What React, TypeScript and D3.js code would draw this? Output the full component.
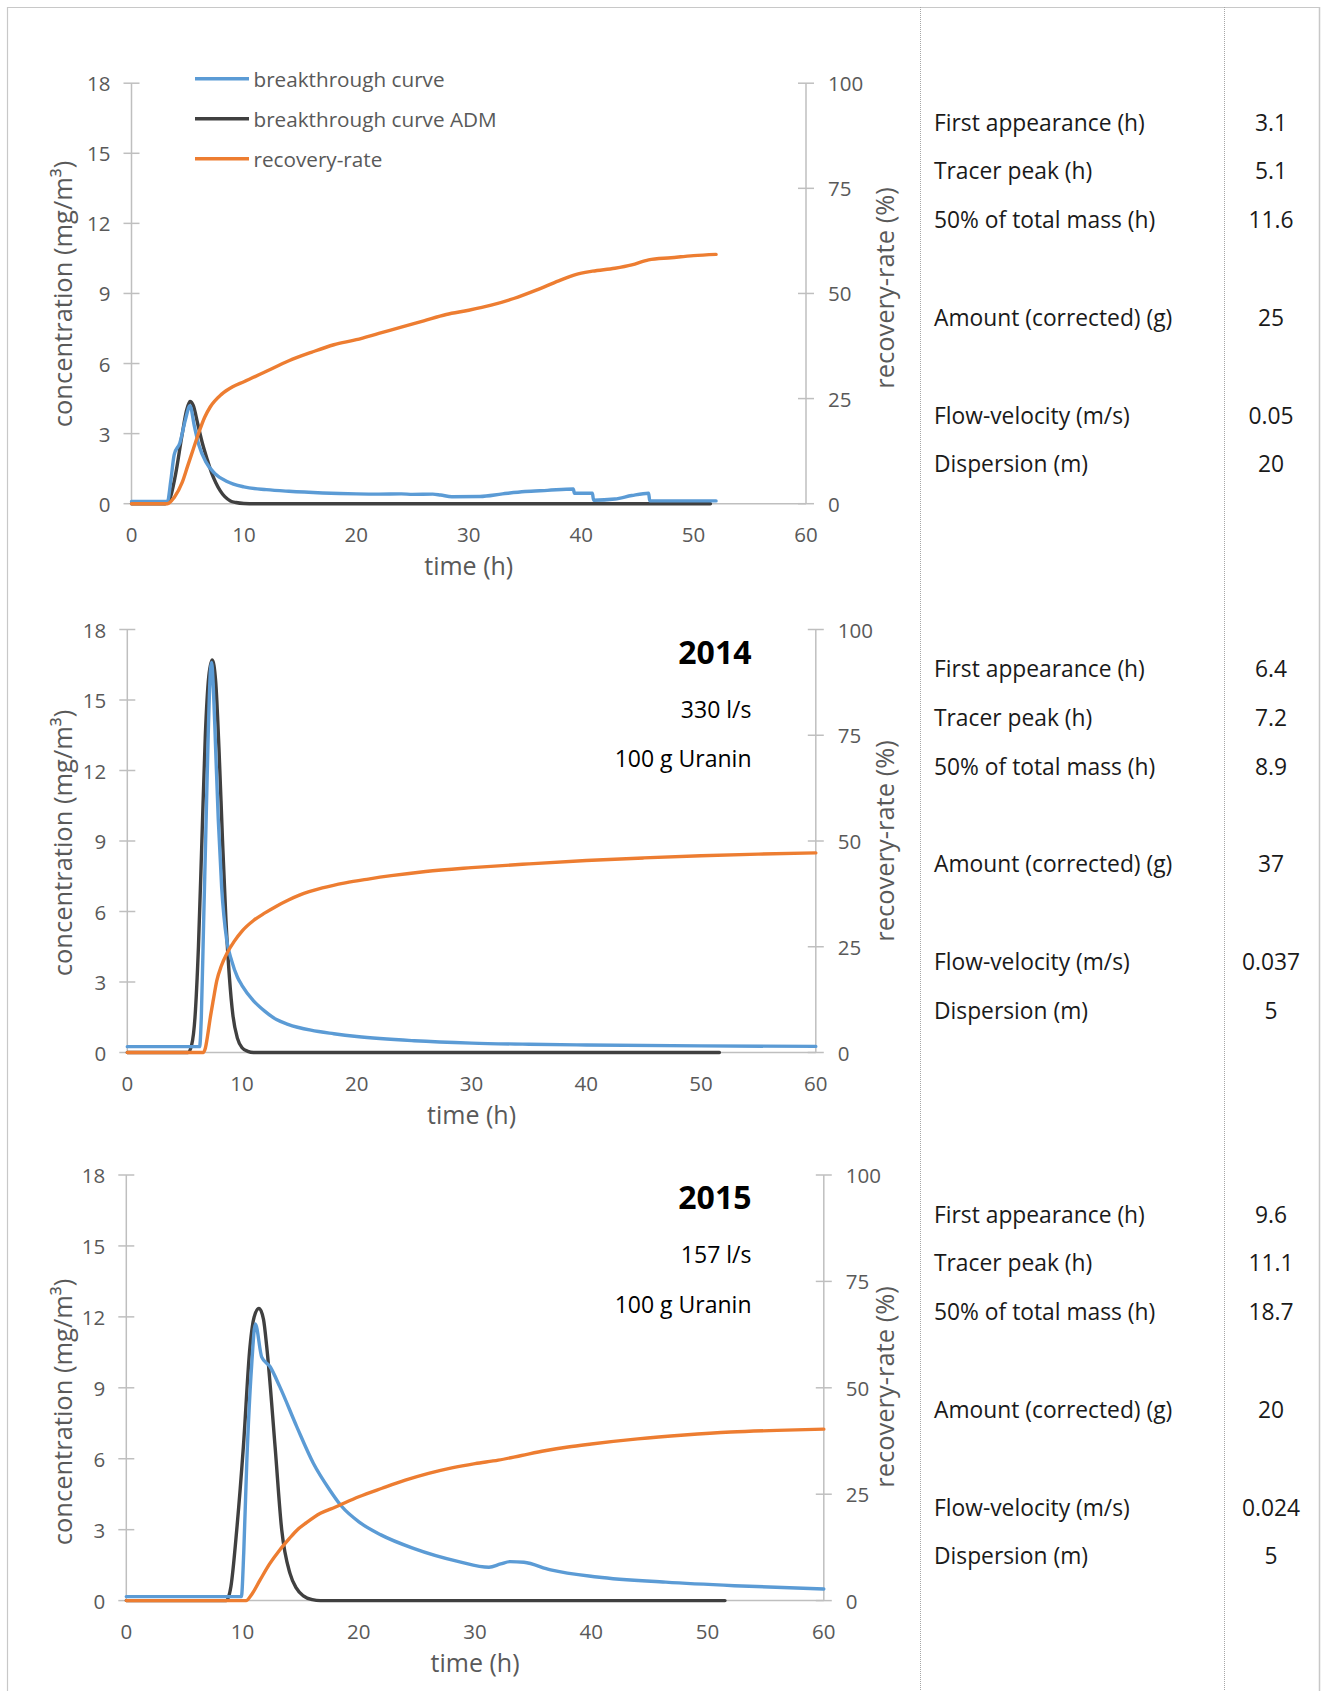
import React from "react";
import * as d3 from "d3";

type Pt = [number, number];

// axis ticks
const timeTicks = [0, 10, 20, 30, 40, 50, 60];
const concTicks = [0, 3, 6, 9, 12, 15, 18];
const rateTicks = [0, 25, 50, 75, 100];

const legendNames = ["breakthrough curve", "breakthrough curve ADM", "recovery-rate"];

// first test (legend chart) - [time h, value]
const btc1: Pt[] = [
  [0, 0.1], [3.2, 0.1], [3.5, 1.0], [3.8, 2.1], [4.3, 2.6], [4.8, 3.6], [5.2, 4.2], [5.6, 3.3],
  [6.0, 2.5], [6.6, 1.8], [7.4, 1.3], [8.5, 0.95], [10, 0.72], [12, 0.6], [14, 0.53], [17, 0.46],
  [20, 0.42], [22, 0.41], [24, 0.42], [25, 0.4], [26.8, 0.41], [27.5, 0.37], [28.5, 0.3], [31, 0.31],
  [33, 0.42], [35, 0.52], [37, 0.57], [39.3, 0.63], [39.4, 0.45], [41, 0.45], [41.1, 0.15], [43, 0.2],
  [44.5, 0.35], [46, 0.45], [46.1, 0.12], [52, 0.12],
];
const adm1: Pt[] = [
  [0, 0], [3.0, 0], [3.4, 0.2], [3.9, 1.2], [4.5, 2.95], [4.9, 4.0], [5.2, 4.38], [5.5, 4.2],
  [5.9, 3.4], [6.3, 2.6], [6.7, 1.95], [7.1, 1.35], [7.5, 0.9], [7.9, 0.55], [8.3, 0.3], [8.8, 0.12],
  [9.3, 0.05], [10, 0.01], [11, 0], [51.5, 0],
];
const rec1: Pt[] = [
  [0, 0], [3.2, 0], [3.8, 1.5], [4.5, 5], [5, 9], [5.5, 13], [6, 17], [6.5, 20.5], [7, 23], [8, 26],
  [9, 27.8], [10, 29], [12, 31.5], [14, 34], [16, 36], [18, 37.8], [20, 39], [22, 40.5], [24, 42],
  [26, 43.5], [28, 45], [30, 46], [32, 47.2], [34, 48.8], [36, 50.8], [38, 53], [39.5, 54.5],
  [41, 55.3], [43, 56], [44.5, 56.8], [46, 58], [48, 58.5], [50, 59], [52, 59.3],
];

// 2014
const btc2: Pt[] = [
  [0, 0.25], [6.3, 0.25], [6.45, 1.5], [6.65, 5.5], [6.85, 9.5], [7.05, 13.5], [7.25, 16.3],
  [7.35, 16.6], [7.5, 15.5], [7.7, 12.9], [7.93, 9.9], [8.22, 7.05], [8.66, 4.8], [9.1, 3.9],
  [9.6, 3.2], [10, 2.85], [11, 2.2], [12, 1.75], [13, 1.4], [14, 1.2], [16, 0.95], [18, 0.8],
  [20, 0.68], [25, 0.5], [30, 0.4], [35, 0.35], [40, 0.32], [50, 0.28], [60, 0.26],
];
const adm2: Pt[] = [
  [0, 0], [5.3, 0], [5.6, 0.3], [5.9, 1.5], [6.2, 4.5], [6.5, 9], [6.8, 13.5], [7.1, 16],
  [7.4, 16.7], [7.7, 15.8], [8.0, 12.8], [8.3, 9], [8.6, 5.6], [8.9, 3.2], [9.2, 1.6], [9.6, 0.6],
  [10, 0.2], [10.5, 0.05], [11, 0], [51.6, 0],
];
const rec2: Pt[] = [
  [0, 0], [6.6, 0], [6.8, 1], [7.0, 4], [7.2, 7.7], [7.5, 12.5], [7.8, 17], [8.2, 20.5], [8.7, 23.5],
  [9.3, 26.2], [10, 28.7], [11, 31.2], [12, 33], [13, 34.6], [14, 36], [15, 37.2], [17, 38.9],
  [19, 40.1], [21, 41], [23, 41.8], [26, 42.8], [30, 43.7], [35, 44.6], [40, 45.4], [45, 46],
  [50, 46.5], [55, 46.9], [60, 47.2],
];

// 2015
const btc3: Pt[] = [
  [0, 0.17], [9.9, 0.17], [10.1, 2], [10.36, 5.8], [10.79, 10.0], [11.1, 11.7], [11.65, 10.3],
  [12.36, 9.9], [13.2, 9.05], [14.66, 7.36], [16.1, 5.8], [17.5, 4.68], [18.5, 4.0], [20.1, 3.3],
  [21.9, 2.78], [24.7, 2.21], [28.6, 1.65], [31.2, 1.41], [32.2, 1.55], [33, 1.65], [34.2, 1.62],
  [36.5, 1.3], [40.5, 1.0], [46.4, 0.78], [52.3, 0.63], [60, 0.49],
];
const adm3: Pt[] = [
  [0, 0], [8.6, 0], [9.0, 0.6], [9.5, 2.99], [10.07, 6.5], [10.64, 10.74], [11.0, 12.0],
  [11.42, 12.36], [11.8, 11.9], [12.08, 10.74], [12.8, 6.5], [13.37, 2.99], [14.08, 1.15],
  [14.6, 0.55], [15.23, 0.2], [16.0, 0.04], [16.7, 0], [51.5, 0],
];
const rec3: Pt[] = [
  [0, 0], [10.3, 0], [10.8, 1.5], [11.5, 4.8], [12.3, 8.5], [13.2, 11.9], [14, 14.5], [14.7, 16.6],
  [15.5, 18.3], [16.7, 20.5], [18, 22], [20, 24.4], [22, 26.4], [24, 28.3], [26, 29.9], [28, 31.2],
  [30, 32.2], [32, 33], [34, 34.1], [36, 35.2], [38, 36.1], [40, 36.8], [44, 38], [48, 38.9],
  [52, 39.6], [56, 40], [60, 40.3],
];

const notes2 = ["2014", "330 l/s", "100 g Uranin"];
const notes3 = ["2015", "157 l/s", "100 g Uranin"];

const statLabels = [
  "First appearance (h)", "Tracer peak (h)", "50% of total mass (h)",
  "Amount (corrected) (g)", "Flow-velocity (m/s)", "Dispersion (m)",
];
const stats1 = ["3.1", "5.1", "11.6", "25", "0.05", "20"];
const stats2 = ["6.4", "7.2", "8.9", "37", "0.037", "5"];
const stats3 = ["9.6", "11.1", "18.7", "20", "0.024", "5"];

const FONT = "'Open Sans', sans-serif";
const BLUE = "#5b9bd5";
const DARK = "#404040";
const ORANGE = "#ed7d31";
const AXIS = "#bfbfbf";
const LABEL = "#595959";
const statRowOffsets = [39, 87.5, 136.5, 234, 332, 380.5];

type Box = { l: number; r: number; t: number; b: number };

function Chart(props: {
  box: Box; btc: Pt[]; adm: Pt[]; rec: Pt[]; notes?: string[]; legend?: boolean;
  stats: string[]; yTitleY: number; rTitleY: number;
}) {
  const { box, btc, adm, rec, notes, legend, stats, yTitleY, rTitleY } = props;
  const x = d3.scaleLinear().domain([0, 60]).range([box.l, box.r]);
  const yc = d3.scaleLinear().domain([0, 18]).range([box.b, box.t]);
  const yr = d3.scaleLinear().domain([0, 100]).range([box.b, box.t]);
  const lineC = d3.line<Pt>().x(d => x(d[0])).y(d => yc(d[1])).curve(d3.curveMonotoneX);
  const lineR = d3.line<Pt>().x(d => x(d[0])).y(d => yr(d[1])).curve(d3.curveMonotoneX);

  return (
    <g fontFamily={FONT}>
      {/* axes */}
      <line x1={box.l} x2={box.r} y1={box.b} y2={box.b} stroke={AXIS} strokeWidth={1.5} />
      <line x1={box.l} x2={box.l} y1={box.t} y2={box.b} stroke={AXIS} strokeWidth={1.5} />
      <line x1={box.r} x2={box.r} y1={box.t} y2={box.b} stroke={AXIS} strokeWidth={1.5} />
      {concTicks.map(v => (
        <g key={"c" + v}>
          <line x1={box.l - 8} x2={box.l + 8} y1={yc(v)} y2={yc(v)} stroke={AXIS} strokeWidth={1.5} />
          <text x={box.l - 21} y={yc(v)} textAnchor="end" dominantBaseline="central" fontSize={20.5} fill={LABEL}>{v}</text>
        </g>
      ))}
      {rateTicks.map(v => (
        <g key={"r" + v}>
          <line x1={box.r - 8} x2={box.r + 8} y1={yr(v)} y2={yr(v)} stroke={AXIS} strokeWidth={1.5} />
          <text x={box.r + 22} y={yr(v)} textAnchor="start" dominantBaseline="central" fontSize={20.5} fill={LABEL}>{v}</text>
        </g>
      ))}
      {timeTicks.map(v => (
        <text key={"t" + v} x={x(v)} y={box.b + 30} textAnchor="middle" dominantBaseline="central" fontSize={20.5} fill={LABEL}>{v}</text>
      ))}
      <text x={(box.l + box.r) / 2} y={box.b + 61} textAnchor="middle" dominantBaseline="central" fontSize={25} fill={LABEL}>time (h)</text>
      <text transform={`translate(61.5,${yTitleY}) rotate(-90)`} textAnchor="middle" dominantBaseline="central" fontSize={25.5} fill={LABEL}>concentration (mg/m³)</text>
      <text transform={`translate(884,${rTitleY}) rotate(-90)`} textAnchor="middle" dominantBaseline="central" fontSize={25.5} fill={LABEL}>recovery-rate (%)</text>

      {/* series */}
      <path d={lineC(adm) || ""} fill="none" stroke={DARK} strokeWidth={3.4} strokeLinejoin="round" strokeLinecap="round" />
      <path d={lineC(btc) || ""} fill="none" stroke={BLUE} strokeWidth={3.4} strokeLinejoin="round" strokeLinecap="round" />
      <path d={lineR(rec) || ""} fill="none" stroke={ORANGE} strokeWidth={3.4} strokeLinejoin="round" strokeLinecap="round" />

      {legend && legendNames.map((n, i) => (
        <g key={n}>
          <line x1={195} x2={249} y1={78.7 + i * 40} y2={78.7 + i * 40} stroke={[BLUE, DARK, ORANGE][i]} strokeWidth={3.6} />
          <text x={253.5} y={78.7 + i * 40} dominantBaseline="central" fontSize={20.7} fill={LABEL}>{n}</text>
        </g>
      ))}
      {notes && notes.map((n, i) => (
        <text key={n} x={751.5} y={box.t + [21.5, 79, 128.5][i]} textAnchor="end" dominantBaseline="central"
          fontSize={i === 0 ? 32 : 23} fontWeight={i === 0 ? 700 : 400} fill="#000">{n}</text>
      ))}

      {/* parameter table */}
      {statLabels.map((s, i) => (
        <g key={s}>
          <text x={934} y={box.t + statRowOffsets[i]} dominantBaseline="central" fontSize={22.8} fill="#1a1a1a">{s}</text>
          <text x={1271} y={box.t + statRowOffsets[i]} textAnchor="middle" dominantBaseline="central" fontSize={22.8} fill="#1a1a1a">{stats[i]}</text>
        </g>
      ))}
    </g>
  );
}

export default function App() {
  return (
    <svg width={1322} height={1691} style={{ position: "absolute", left: 0, top: 0, background: "#fff" }}>
      <rect x={0} y={0} width={1322} height={1691} fill="#fff" />
      <line x1={7} x2={1320} y1={7.5} y2={7.5} stroke="#c8c8c8" strokeWidth={1.2} />
      <line x1={7.5} x2={7.5} y1={7} y2={1691} stroke="#c8c8c8" strokeWidth={1.2} />
      <line x1={1319.5} x2={1319.5} y1={7} y2={1691} stroke="#c8c8c8" strokeWidth={1.5} />
      <line x1={920.5} x2={920.5} y1={7} y2={1691} stroke="#a6a6a6" strokeWidth={1} strokeDasharray="1 1" />
      <line x1={1224.5} x2={1224.5} y1={7} y2={1691} stroke="#a6a6a6" strokeWidth={1} strokeDasharray="1 1" />

      <Chart box={{ l: 131.5, r: 806, t: 83.2, b: 503.7 }} btc={btc1} adm={adm1} rec={rec1}
        legend stats={stats1} yTitleY={294} rTitleY={288} />
      <Chart box={{ l: 127.3, r: 815.8, t: 629.5, b: 1052.5 }} btc={btc2} adm={adm2} rec={rec2}
        notes={notes2} stats={stats2} yTitleY={843} rTitleY={841} />
      <Chart box={{ l: 126.3, r: 823.8, t: 1175, b: 1600.6 }} btc={btc3} adm={adm3} rec={rec3}
        notes={notes3} stats={stats3} yTitleY={1412} rTitleY={1387} />
    </svg>
  );
}
